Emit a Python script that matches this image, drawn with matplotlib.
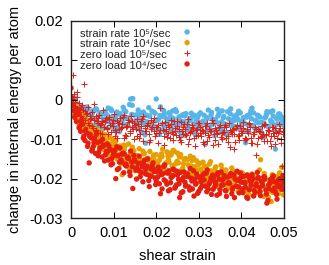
import numpy as np
import matplotlib
matplotlib.use("Agg")
import matplotlib.pyplot as plt
from matplotlib.ticker import FuncFormatter

plt.rcParams['font.family'] = ['Liberation Sans', 'DejaVu Sans']

# shear strain sampling points (three interleaved sample sets)
strain_a = [
    0.0000, 0.0005, 0.0010, 0.0015, 0.0020, 0.0025, 0.0030, 0.0035, 0.0040, 0.0045,
    0.0050, 0.0055, 0.0060, 0.0065, 0.0070, 0.0075, 0.0080, 0.0085, 0.0090, 0.0095,
    0.0100, 0.0105, 0.0110, 0.0115, 0.0120, 0.0125, 0.0130, 0.0135, 0.0140, 0.0145,
    0.0150, 0.0155, 0.0160, 0.0165, 0.0170, 0.0175, 0.0180, 0.0185, 0.0190, 0.0195,
    0.0200, 0.0205, 0.0210, 0.0215, 0.0220, 0.0225, 0.0230, 0.0235, 0.0240, 0.0245,
    0.0250, 0.0255, 0.0260, 0.0265, 0.0270, 0.0275, 0.0280, 0.0285, 0.0290, 0.0295,
    0.0300, 0.0305, 0.0310, 0.0315, 0.0320, 0.0325, 0.0330, 0.0335, 0.0340, 0.0345,
    0.0350, 0.0355, 0.0360, 0.0365, 0.0370, 0.0375, 0.0380, 0.0385, 0.0390, 0.0395,
    0.0400, 0.0405, 0.0410, 0.0415, 0.0420, 0.0425, 0.0430, 0.0435, 0.0440, 0.0445,
    0.0450, 0.0455, 0.0460, 0.0465, 0.0470, 0.0475, 0.0480, 0.0485, 0.0490, 0.0495,
    0.0500,
]
strain_b = [
    0.00025, 0.00075, 0.00125, 0.00175, 0.00225, 0.00275, 0.00325, 0.00375, 0.00425, 0.00475,
    0.00525, 0.00575, 0.00625, 0.00675, 0.00725, 0.00775, 0.00825, 0.00875, 0.00925, 0.00975,
    0.01025, 0.01075, 0.01125, 0.01175, 0.01225, 0.01275, 0.01325, 0.01375, 0.01425, 0.01475,
    0.01525, 0.01575, 0.01625, 0.01675, 0.01725, 0.01775, 0.01825, 0.01875, 0.01925, 0.01975,
    0.02025, 0.02075, 0.02125, 0.02175, 0.02225, 0.02275, 0.02325, 0.02375, 0.02425, 0.02475,
    0.02525, 0.02575, 0.02625, 0.02675, 0.02725, 0.02775, 0.02825, 0.02875, 0.02925, 0.02975,
    0.03025, 0.03075, 0.03125, 0.03175, 0.03225, 0.03275, 0.03325, 0.03375, 0.03425, 0.03475,
    0.03525, 0.03575, 0.03625, 0.03675, 0.03725, 0.03775, 0.03825, 0.03875, 0.03925, 0.03975,
    0.04025, 0.04075, 0.04125, 0.04175, 0.04225, 0.04275, 0.04325, 0.04375, 0.04425, 0.04475,
    0.04525, 0.04575, 0.04625, 0.04675, 0.04725, 0.04775, 0.04825, 0.04875, 0.04925, 0.04975,
]
strain_c = [
    0.000375, 0.000875, 0.001375, 0.001875, 0.002375, 0.002875, 0.003375, 0.003875, 0.004375, 0.004875,
    0.005375, 0.005875, 0.006375, 0.006875, 0.007375, 0.007875, 0.008375, 0.008875, 0.009375, 0.009875,
    0.010375, 0.010875, 0.011375, 0.011875, 0.012375, 0.012875, 0.013375, 0.013875, 0.014375, 0.014875,
    0.015375, 0.015875, 0.016375, 0.016875, 0.017375, 0.017875, 0.018375, 0.018875, 0.019375, 0.019875,
    0.020375, 0.020875, 0.021375, 0.021875, 0.022375, 0.022875, 0.023375, 0.023875, 0.024375, 0.024875,
    0.025375, 0.025875, 0.026375, 0.026875, 0.027375, 0.027875, 0.028375, 0.028875, 0.029375, 0.029875,
    0.030375, 0.030875, 0.031375, 0.031875, 0.032375, 0.032875, 0.033375, 0.033875, 0.034375, 0.034875,
    0.035375, 0.035875, 0.036375, 0.036875, 0.037375, 0.037875, 0.038375, 0.038875, 0.039375, 0.039875,
    0.040375, 0.040875, 0.041375, 0.041875, 0.042375, 0.042875, 0.043375, 0.043875, 0.044375, 0.044875,
    0.045375, 0.045875, 0.046375, 0.046875, 0.047375, 0.047875, 0.048375, 0.048875, 0.049375, 0.049875,
]

# strain rate 1e5/sec
rate_1e5_a = [
    0.0008, -0.0012, 0.0004, -0.0031, -0.0015, -0.0042, -0.0028, -0.0050, -0.0022, -0.0061,
    -0.0034, -0.0048, -0.0025, -0.0066, -0.0039, -0.0054, -0.0030, -0.0072, -0.0045, -0.0028,
    -0.0058, -0.0041, -0.0069, -0.0035, -0.0052, -0.0027, -0.0063, -0.0046, 0.0002, 0.0003,
    -0.0055, -0.0038, -0.0074, -0.0049, -0.0031, -0.0110, -0.0060, -0.0042, -0.0029, -0.0067,
    0.0002, -0.0051, -0.0018, -0.0076, -0.0044, -0.0058, -0.0033, -0.0069, -0.0047, -0.0025,
    -0.0063, -0.0081, -0.0040, -0.0056, -0.0035, -0.0072, -0.0052, -0.0044, -0.0086, -0.0061,
    -0.0038, -0.0070, -0.0054, -0.0113, -0.0047, -0.0066, -0.0032, -0.0078, -0.0057, -0.0041,
    -0.0069, -0.0028, -0.0061, -0.0083, -0.0048, -0.0023, -0.0066, -0.0052, -0.0037, -0.0074,
    -0.0058, -0.0045, -0.0109, -0.0063, -0.0036, -0.0021, -0.0070, -0.0053, -0.0040, -0.0077,
    -0.0059, -0.0046, -0.0030, -0.0068, -0.0055, -0.0041, -0.0125, -0.0062, -0.0036, -0.0049,
    -0.0065,
]
rate_1e5_b = [
    -0.0004, -0.0020, -0.0009, -0.0037, -0.0021, -0.0046, -0.0033, -0.0018, -0.0055, -0.0040,
    -0.0027, -0.0062, -0.0044, -0.0033, -0.0070, -0.0050, -0.0036, -0.0021, -0.0059, -0.0043,
    -0.0078, -0.0031, -0.0056, -0.0040, -0.0019, -0.0064, -0.0048, -0.0012, -0.0037, -0.0070,
    -0.0053, -0.0026, -0.0045, -0.0082, -0.0061, -0.0039, -0.0020, -0.0057, -0.0071, -0.0034,
    -0.0050, -0.0088, -0.0043, -0.0027, -0.0066, -0.0054, -0.0038, -0.0079, -0.0060, -0.0030,
    -0.0048, -0.0093, -0.0065, -0.0041, -0.0075, -0.0052, -0.0034, -0.0062, -0.0087, -0.0045,
    -0.0071, -0.0057, -0.0039, -0.0080, -0.0026, -0.0064, -0.0049, -0.0091, -0.0058, -0.0035,
    -0.0073, -0.0046, -0.0062, -0.0030, -0.0084, -0.0055, -0.0041, -0.0068, -0.0050, -0.0033,
    -0.0076, -0.0060, -0.0044, -0.0081, -0.0028, -0.0065, -0.0052, -0.0039, -0.0072, -0.0057,
    -0.0095, -0.0043, -0.0067, -0.0031, -0.0058, -0.0078, -0.0047, -0.0036, -0.0061, -0.0052,
]
rate_1e5_c = [
    0.0002, -0.0028, -0.0016, -0.0044, -0.0030, -0.0019, -0.0052, -0.0038, -0.0064, -0.0031,
    -0.0047, -0.0023, -0.0058, -0.0041, -0.0075, -0.0036, -0.0055, -0.0044, -0.0024, -0.0068,
    -0.0049, -0.0033, -0.0081, -0.0057, -0.0042, -0.0030, -0.0066, -0.0051, -0.0014, -0.0039,
    -0.0072, -0.0060, -0.0034, -0.0047, -0.0089, -0.0056, -0.0041, -0.0068, -0.0031, -0.0053,
    -0.0077, -0.0040, -0.0062, -0.0035, -0.0084, -0.0049, -0.0066, -0.0028, -0.0058, -0.0072,
    -0.0043, -0.0055, -0.0037, -0.0090, -0.0063, -0.0047, -0.0076, -0.0039, -0.0054, -0.0068,
    -0.0033, -0.0082, -0.0059, -0.0045, -0.0071, -0.0038, -0.0061, -0.0050, -0.0024, -0.0078,
    -0.0056, -0.0042, -0.0087, -0.0064, -0.0035, -0.0051, -0.0073, -0.0046, -0.0029, -0.0067,
    -0.0054, -0.0080, -0.0040, -0.0063, -0.0048, -0.0033, -0.0075, -0.0058, -0.0044, -0.0085,
    -0.0060, -0.0037, -0.0070, -0.0052, -0.0028, -0.0065, -0.0049, -0.0081, -0.0043, -0.0057,
]

# strain rate 1e4/sec
rate_1e4_a = [
    -0.0005, -0.0030, -0.0012, -0.0048, -0.0025, -0.0061, -0.0040, -0.0072, -0.0055, -0.0083,
    -0.0068, -0.0092, -0.0075, -0.0101, -0.0081, -0.0110, -0.0088, -0.0122, -0.0096, -0.0114,
    -0.0129, -0.0104, -0.0138, -0.0117, -0.0190, -0.0126, -0.0145, -0.0112, -0.0158, -0.0133,
    -0.0180, -0.0141, -0.0124, -0.0162, -0.0137, -0.0170, -0.0148, -0.0131, -0.0175, -0.0152,
    -0.0139, -0.0168, -0.0146, -0.0125, -0.0172, -0.0132, -0.0158, -0.0140, -0.0128, -0.0163,
    -0.0135, -0.0145, -0.0178, -0.0150, -0.0186, -0.0165, -0.0143, -0.0192, -0.0170, -0.0155,
    -0.0198, -0.0176, -0.0158, -0.0205, -0.0181, -0.0163, -0.0200, -0.0187, -0.0170, -0.0214,
    -0.0193, -0.0176, -0.0208, -0.0189, -0.0222, -0.0196, -0.0180, -0.0215, -0.0201, -0.0228,
    -0.0184, -0.0210, -0.0195, -0.0232, -0.0206, -0.0188, -0.0219, -0.0200, -0.0236, -0.0152,
    -0.0212, -0.0195, -0.0229, -0.0204, -0.0258, -0.0217, -0.0199, -0.0226, -0.0185, -0.0171,
    -0.0215,
]
rate_1e4_b = [
    -0.0018, -0.0040, -0.0026, -0.0058, -0.0035, -0.0070, -0.0052, -0.0085, -0.0063, -0.0094,
    -0.0077, -0.0105, -0.0086, -0.0118, -0.0095, -0.0127, -0.0107, -0.0140, -0.0115, -0.0101,
    -0.0134, -0.0150, -0.0123, -0.0162, -0.0139, -0.0116, -0.0154, -0.0176, -0.0143, -0.0129,
    -0.0166, -0.0150, -0.0185, -0.0158, -0.0136, -0.0172, -0.0155, -0.0190, -0.0147, -0.0165,
    -0.0181, -0.0153, -0.0137, -0.0176, -0.0160, -0.0142, -0.0188, -0.0167, -0.0131, -0.0182,
    -0.0160, -0.0139, -0.0173, -0.0195, -0.0152, -0.0184, -0.0168, -0.0147, -0.0201, -0.0178,
    -0.0161, -0.0194, -0.0210, -0.0172, -0.0189, -0.0157, -0.0206, -0.0183, -0.0218, -0.0195,
    -0.0166, -0.0211, -0.0190, -0.0225, -0.0203, -0.0173, -0.0217, -0.0198, -0.0232, -0.0208,
    -0.0186, -0.0224, -0.0202, -0.0240, -0.0213, -0.0192, -0.0227, -0.0207, -0.0178, -0.0220,
    -0.0245, -0.0201, -0.0233, -0.0212, -0.0190, -0.0228, -0.0206, -0.0238, -0.0219, -0.0197,
]
rate_1e4_c = [
    -0.0010, -0.0036, -0.0022, -0.0053, -0.0069, -0.0046, -0.0080, -0.0062, -0.0091, -0.0073,
    -0.0100, -0.0082, -0.0113, -0.0090, -0.0124, -0.0101, -0.0135, -0.0111, -0.0146, -0.0120,
    -0.0108, -0.0142, -0.0158, -0.0128, -0.0115, -0.0150, -0.0168, -0.0135, -0.0120, -0.0160,
    -0.0145, -0.0178, -0.0152, -0.0130, -0.0167, -0.0149, -0.0183, -0.0157, -0.0140, -0.0174,
    -0.0159, -0.0186, -0.0144, -0.0165, -0.0180, -0.0151, -0.0135, -0.0171, -0.0190, -0.0156,
    -0.0141, -0.0180, -0.0162, -0.0149, -0.0193, -0.0170, -0.0154, -0.0197, -0.0182, -0.0164,
    -0.0207, -0.0185, -0.0168, -0.0199, -0.0215, -0.0180, -0.0196, -0.0172, -0.0209, -0.0224,
    -0.0188, -0.0203, -0.0178, -0.0214, -0.0197, -0.0230, -0.0205, -0.0185, -0.0221, -0.0199,
    -0.0236, -0.0211, -0.0190, -0.0226, -0.0204, -0.0243, -0.0216, -0.0196, -0.0230, -0.0209,
    -0.0187, -0.0223, -0.0247, -0.0205, -0.0235, -0.0214, -0.0194, -0.0229, -0.0208, -0.0241,
]

# zero load, 1e5/sec
zero_1e5_a = [
    0.0008, 0.0062, -0.0005, 0.0021, -0.0024, -0.0012, 0.0041, -0.0036, -0.0019, -0.0048,
    -0.0030, -0.0011, -0.0055, -0.0039, -0.0062, -0.0027, -0.0051, -0.0073, -0.0044, -0.0058,
    -0.0035, -0.0081, -0.0060, -0.0047, -0.0069, -0.0038, -0.0091, -0.0056, -0.0042, -0.0075,
    -0.0063, -0.0049, -0.0098, -0.0067, -0.0040, -0.0078, -0.0059, -0.0103, -0.0070, -0.0046,
    -0.0085, -0.0064, -0.0022, -0.0076, -0.0057, -0.0094, -0.0068, -0.0050, -0.0087, -0.0072,
    -0.0055, -0.0101, -0.0079, -0.0061, -0.0090, -0.0048, -0.0083, -0.0070, -0.0118, -0.0075,
    -0.0058, -0.0092, -0.0080, -0.0066, -0.0105, -0.0073, -0.0052, -0.0088, -0.0077, -0.0112,
    -0.0063, -0.0085, -0.0070, -0.0096, -0.0059, -0.0082, -0.0074, -0.0108, -0.0067, -0.0090,
    -0.0078, -0.0056, -0.0099, -0.0084, -0.0069, -0.0110, -0.0081, -0.0140, -0.0073, -0.0095,
    -0.0086, -0.0062, -0.0104, -0.0079, -0.0091, -0.0068, -0.0113, -0.0085, -0.0072, -0.0168,
    -0.0081,
]
zero_1e5_b = [
    -0.0010, 0.0015, -0.0022, -0.0008, -0.0040, -0.0026, -0.0052, -0.0034, -0.0065, -0.0047,
    -0.0072, -0.0041, -0.0060, -0.0083, -0.0053, -0.0068, -0.0045, -0.0086, -0.0064, -0.0050,
    -0.0077, -0.0096, -0.0058, -0.0071, -0.0043, -0.0089, -0.0066, -0.0079, -0.0054, -0.0100,
    -0.0073, -0.0061, -0.0087, -0.0048, -0.0080, -0.0067, -0.0106, -0.0075, -0.0057, -0.0092,
    -0.0070, -0.0083, -0.0060, -0.0115, -0.0078, -0.0064, -0.0097, -0.0082, -0.0055, -0.0089,
    -0.0074, -0.0108, -0.0068, -0.0086, -0.0062, -0.0099, -0.0080, -0.0071, -0.0093, -0.0058,
    -0.0084, -0.0076, -0.0111, -0.0066, -0.0090, -0.0079, -0.0060, -0.0102, -0.0085, -0.0070,
    -0.0094, -0.0081, -0.0063, -0.0107, -0.0077, -0.0088, -0.0125, -0.0072, -0.0091, -0.0066,
    -0.0083, -0.0101, -0.0075, -0.0059, -0.0097, -0.0086, -0.0070, -0.0112, -0.0080, -0.0093,
    -0.0064, -0.0088, -0.0076, -0.0105, -0.0069, -0.0092, -0.0082, -0.0061, -0.0100, -0.0078,
]
zero_1e5_c = [
    0.0003, -0.0015, 0.0008, -0.0031, -0.0018, -0.0045, -0.0029, -0.0058, -0.0041, -0.0067,
    -0.0050, -0.0076, -0.0046, -0.0063, -0.0088, -0.0057, -0.0071, -0.0049, -0.0082, -0.0066,
    -0.0093, -0.0053, -0.0074, -0.0061, -0.0097, -0.0070, -0.0052, -0.0085, -0.0068, -0.0059,
    -0.0091, -0.0076, -0.0054, -0.0104, -0.0072, -0.0063, -0.0087, -0.0051, -0.0080, -0.0069,
    -0.0110, -0.0077, -0.0058, -0.0092, -0.0073, -0.0084, -0.0062, -0.0101, -0.0079, -0.0066,
    -0.0095, -0.0057, -0.0086, -0.0074, -0.0113, -0.0081, -0.0064, -0.0098, -0.0077, -0.0089,
    -0.0069, -0.0106, -0.0083, -0.0060, -0.0094, -0.0078, -0.0115, -0.0072, -0.0087, -0.0063,
    -0.0100, -0.0081, -0.0069, -0.0092, -0.0120, -0.0076, -0.0088, -0.0065, -0.0103, -0.0084,
    -0.0072, -0.0096, -0.0079, -0.0062, -0.0109, -0.0087, -0.0074, -0.0098, -0.0082, -0.0066,
    -0.0105, -0.0090, -0.0077, -0.0118, -0.0085, -0.0071, -0.0096, -0.0080, -0.0110, -0.0088,
]

# zero load, 1e4/sec
zero_1e4_a = [
    0.0030, -0.0015, -0.0040, -0.0025, -0.0068, -0.0050, -0.0092, -0.0075, -0.0110, -0.0088,
    -0.0125, -0.0098, -0.0082, -0.0133, -0.0105, -0.0118, -0.0140, -0.0112, -0.0128, -0.0150,
    -0.0135, -0.0200, -0.0142, -0.0122, -0.0158, -0.0137, -0.0168, -0.0149, -0.0130, -0.0225,
    -0.0155, -0.0172, -0.0143, -0.0184, -0.0160, -0.0176, -0.0150, -0.0193, -0.0167, -0.0182,
    -0.0206, -0.0171, -0.0238, -0.0188, -0.0165, -0.0214, -0.0180, -0.0197, -0.0176, -0.0221,
    -0.0191, -0.0248, -0.0203, -0.0183, -0.0217, -0.0195, -0.0174, -0.0226, -0.0201, -0.0188,
    -0.0232, -0.0207, -0.0190, -0.0219, -0.0178, -0.0211, -0.0240, -0.0198, -0.0215, -0.0185,
    -0.0228, -0.0204, -0.0192, -0.0245, -0.0210, -0.0187, -0.0223, -0.0200, -0.0181, -0.0236,
    -0.0209, -0.0194, -0.0222, -0.0250, -0.0205, -0.0190, -0.0230, -0.0213, -0.0197, -0.0243,
    -0.0218, -0.0201, -0.0262, -0.0225, -0.0207, -0.0193, -0.0234, -0.0215, -0.0200, -0.0227,
    -0.0210,
]
zero_1e4_b = [
    0.0005, -0.0028, -0.0055, -0.0037, -0.0080, -0.0062, -0.0103, -0.0084, -0.0160, -0.0097,
    -0.0118, -0.0136, -0.0108, -0.0124, -0.0145, -0.0115, -0.0131, -0.0153, -0.0126, -0.0162,
    -0.0140, -0.0119, -0.0174, -0.0152, -0.0135, -0.0166, -0.0147, -0.0183, -0.0158, -0.0141,
    -0.0178, -0.0161, -0.0195, -0.0170, -0.0153, -0.0189, -0.0205, -0.0175, -0.0160, -0.0198,
    -0.0183, -0.0213, -0.0190, -0.0169, -0.0207, -0.0186, -0.0228, -0.0195, -0.0178, -0.0216,
    -0.0202, -0.0184, -0.0233, -0.0209, -0.0192, -0.0221, -0.0199, -0.0180, -0.0214, -0.0237,
    -0.0196, -0.0218, -0.0203, -0.0186, -0.0227, -0.0206, -0.0191, -0.0220, -0.0242, -0.0201,
    -0.0183, -0.0216, -0.0230, -0.0196, -0.0212, -0.0238, -0.0190, -0.0219, -0.0204, -0.0186,
    -0.0226, -0.0209, -0.0247, -0.0195, -0.0217, -0.0200, -0.0235, -0.0184, -0.0222, -0.0207,
    -0.0196, -0.0229, -0.0255, -0.0211, -0.0198, -0.0224, -0.0240, -0.0203, -0.0218, -0.0192,
]
zero_1e4_c = [
    -0.0012, -0.0045, -0.0030, -0.0071, -0.0056, -0.0097, -0.0079, -0.0118, -0.0093, -0.0130,
    -0.0108, -0.0089, -0.0142, -0.0121, -0.0100, -0.0155, -0.0134, -0.0117, -0.0165, -0.0143,
    -0.0127, -0.0177, -0.0158, -0.0138, -0.0185, -0.0163, -0.0145, -0.0192, -0.0170, -0.0152,
    -0.0201, -0.0179, -0.0161, -0.0208, -0.0187, -0.0168, -0.0220, -0.0194, -0.0176, -0.0215,
    -0.0196, -0.0180, -0.0226, -0.0203, -0.0185, -0.0231, -0.0210, -0.0192, -0.0224, -0.0181,
    -0.0213, -0.0236, -0.0197, -0.0219, -0.0188, -0.0229, -0.0206, -0.0244, -0.0212, -0.0195,
    -0.0225, -0.0203, -0.0186, -0.0233, -0.0214, -0.0198, -0.0227, -0.0209, -0.0190, -0.0238,
    -0.0217, -0.0199, -0.0231, -0.0211, -0.0193, -0.0226, -0.0248, -0.0204, -0.0221, -0.0197,
    -0.0235, -0.0212, -0.0191, -0.0228, -0.0206, -0.0244, -0.0218, -0.0199, -0.0233, -0.0210,
    -0.0195, -0.0239, -0.0216, -0.0202, -0.0230, -0.0208, -0.0252, -0.0221, -0.0204, -0.0226,
]

labels = ['strain rate 10\u2075/sec', 'strain rate 10\u2074/sec',
          'zero load 10\u2075/sec', 'zero load 10\u2074/sec']
colors = ['#56b4e9', '#e69f00', '#e51e10', '#e51e10']
markers = ['o', 'o', '+', 'o']
x_ticks = [0, 0.01, 0.02, 0.03, 0.04, 0.05]
y_ticks = [-0.03, -0.02, -0.01, 0, 0.01, 0.02]

strain = strain_a + strain_b + strain_c
series = [
    rate_1e5_a + rate_1e5_b + rate_1e5_c,
    rate_1e4_a + rate_1e4_b + rate_1e4_c,
    zero_1e5_a + zero_1e5_b + zero_1e5_c,
    zero_1e4_a + zero_1e4_b + zero_1e4_c,
]

fig = plt.figure(figsize=(3.29, 2.65), dpi=100)
ax = fig.add_axes([0.216, 0.177, 0.647, 0.744])

for vals, col, mk in zip(series, colors, markers):
    if mk == '+':
        ax.scatter(strain, vals, s=22, c=col, marker='+', linewidths=0.7)
    else:
        ax.scatter(strain, vals, s=15, c=col, edgecolors='none')

# key in gnuplot style: left-justified text, sample to the right
key_y = [0.940, 0.886, 0.832, 0.778]
for lab, col, mk, ky in zip(labels, colors, markers, key_y):
    ax.text(0.042, ky, lab, transform=ax.transAxes, fontsize=8,
            ha='left', va='center_baseline', color='#222222')
    if mk == '+':
        ax.scatter([0.545], [ky + 0.004], s=22, c=col, marker='+', linewidths=0.7,
                   transform=ax.transAxes, clip_on=False)
    else:
        ax.scatter([0.545], [ky + 0.004], s=15, c=col, edgecolors='none',
                   transform=ax.transAxes, clip_on=False)

ax.set_xlim(0, 0.05)
ax.set_ylim(-0.03, 0.02)
ax.set_xticks(x_ticks)
ax.set_yticks(y_ticks)

def fmt(v, pos):
    return f'{v:g}'

ax.xaxis.set_major_formatter(FuncFormatter(fmt))
ax.yaxis.set_major_formatter(FuncFormatter(fmt))
ax.tick_params(direction='in', top=True, right=True, length=4, width=0.7,
               labelsize=10.5, pad=6)
for sp in ax.spines.values():
    sp.set_linewidth(1.0)
    sp.set_color('#222222')

ax.set_xlabel('shear strain', fontsize=10.5, labelpad=6)
ax.set_ylabel('change in internal energy per atom', fontsize=10.5, labelpad=5)

fig.savefig('out.png', dpi=100)
